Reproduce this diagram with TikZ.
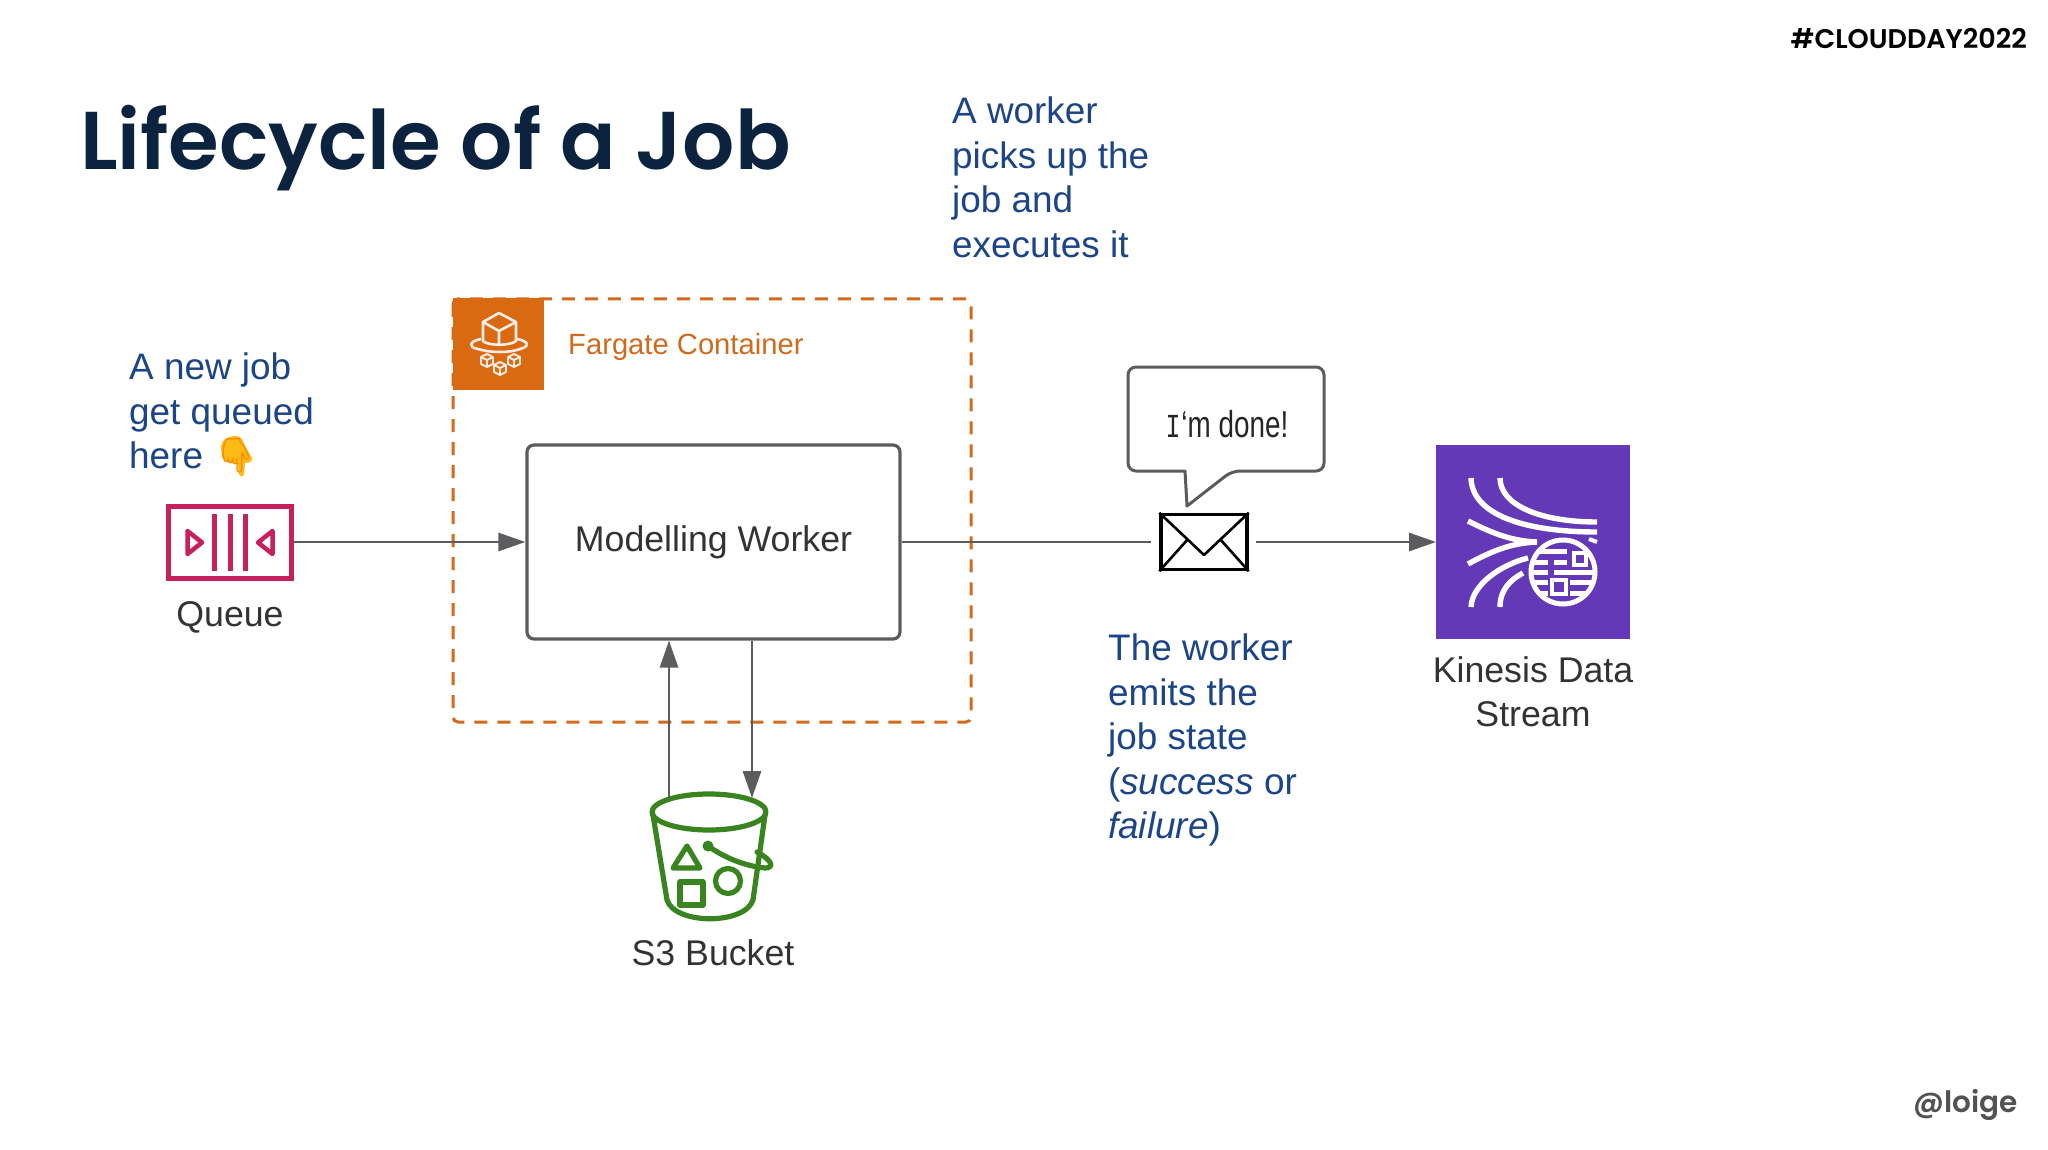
\documentclass[tikz,border=0pt]{standalone}
\usepackage{fontspec}
\setmainfont{Liberation Sans}
\newfontfamily\titlefont{Poppins}[BoldFont={Poppins SemiBold}]
\newfontfamily\tagfont{Poppins}[BoldFont={Poppins SemiBold}]
\newfontfamily\emojifont{Noto Emoji}
\newfontfamily\monofam{Liberation Mono}
\usetikzlibrary{arrows.meta}
\definecolor{navy}{HTML}{0C2340}
\definecolor{noteblue}{HTML}{1C4587}
\definecolor{labelgrey}{HTML}{333333}
\definecolor{linegrey}{HTML}{5C5C5F}
\definecolor{orangeaws}{HTML}{DA6A12}
\definecolor{orangetext}{HTML}{D26A1E}
\definecolor{queuered}{HTML}{C7215D}
\definecolor{bucketgreen}{HTML}{3A8420}
\definecolor{kinesispurple}{HTML}{6339B8}
\definecolor{handyellow}{HTML}{FDBB16}
\tikzset{
  note/.style={anchor=north west,inner sep=0pt,align=left,text=noteblue,font=\fontsize{36.9}{44.4}\selectfont},
  lab/.style={inner sep=0pt,align=center,text=labelgrey,font=\fontsize{35.7}{44.4}\selectfont},
  conn/.style={draw=linegrey,line width=2.8pt},
  arr/.style={conn,-{Triangle[length=27pt,width=18pt]}},
  iconbox/.style={inner sep=0pt,outer sep=0pt,minimum width=#1,minimum height=#1},
  qline/.style={draw=queuered,line width=5pt},
  hatline/.style={draw=white!88!orangeaws,line width=2.6pt,line join=round},
  bline/.style={draw=bucketgreen,line width=5.2pt,line join=round,line cap=round},
  kline/.style={draw=white,line width=5.4pt},
}
\begin{document}
\begin{tikzpicture}[x=1pt,y=-1pt]
\useasboundingbox (0,0) rectangle (2048,1150);
\fill[white] (0,0) rectangle (2048,1150);

% title and tags
\node[anchor=base west,inner sep=0pt,text=navy,font=\titlefont\bfseries\fontsize{82}{90}\selectfont] (title) at (80,170) {Lifecycle of a Job};
\node[anchor=east,inner sep=0pt,text=black,font=\tagfont\bfseries\fontsize{27}{30}\selectfont] (tag) at (2027,39) {\#CLOUDDAY2022};
\node[anchor=east,inner sep=0pt,text=labelgrey!85,font=\tagfont\bfseries\fontsize{29.5}{34}\selectfont] (handle) at (2018,1105) {@loige};

% notes
\node[note] (n1) at (952,97) {A worker\\picks up the\\job and\\executes it};
\node[note] (n2) at (129,353) {A new job\\get queued\\here};
\node[note] (n3) at (1108,634) {The worker\\emits the\\job state\\(\textit{success} or\\\textit{failure})};

% hand emoji
\fill[handyellow] (221,447) .. controls (221,440) and (228,436) .. (236,436)
  .. controls (241,436) and (243,440) .. (245,446) -- (252,458)
  .. controls (253,461) and (250,463) .. (245,463) -- (244,474)
  .. controls (243,477) and (240,477) .. (239,474) -- (237,463)
  .. controls (230,464) and (224,462) .. (222,457) -- cycle;
\node[inner sep=0pt,text=orange!90!handyellow,font=\emojifont\fontsize{34}{36}\selectfont] (hand) at (236,456) {👇};

% container
\draw[draw=orangetext,line width=3pt,dash pattern=on 13pt off 10pt,rounded corners=5pt] (453,299) rectangle (971,722);
\node[iconbox=91pt,fill=orangeaws] (fargate) at (498.5,344) {};
\node[anchor=west,inner sep=0pt,text=orangetext,font=\fontsize{29.2}{32}\selectfont] (fargatelabel) at (568,347) {Fargate Container};
\begin{scope}
  \draw[hatline] (481,339) .. controls (470,341) and (467,347) .. (478,349) .. controls (490,353) and (510,353) .. (520,349) .. controls (531,346) and (528,341) .. (517,339);
  \draw[hatline] (499,313) -- (516,322) -- (516,341) .. controls (510,346) and (488,346) .. (483,341) -- (483,322) -- cycle;
  \draw[hatline] (483,322) -- (499,331) -- (516,322) (499,331) -- (499,345);
  \foreach \cx/\cy in {487/360,500/368,514/360}{
    \draw[draw=white!88!orangeaws,line width=1.8pt,line join=round] (\cx,\cy-6) -- (\cx+6,\cy-3) -- (\cx+6,\cy+4) -- (\cx,\cy+7) -- (\cx-6,\cy+4) -- (\cx-6,\cy-3) -- cycle (\cx-6,\cy-3) -- (\cx,\cy) -- (\cx+6,\cy-3) (\cx,\cy) -- (\cx,\cy+7);
  }
\end{scope}

% worker
\node[draw=linegrey,line width=3.2pt,rounded corners=7pt,minimum width=373pt,minimum height=194pt,inner sep=0pt,text=labelgrey,font=\fontsize{35.7}{38}\selectfont] (worker) at (713.5,542) {Modelling Worker};

% queue
\node[qline,inner sep=0pt,minimum width=123pt,minimum height=72pt,outer sep=2.5pt] (queue) at (230,542) {};
\draw[draw=queuered,line width=5pt] (214,514) -- (214,571) (230,514) -- (230,571) (245,514) -- (245,571);
\draw[draw=queuered,line width=4.5pt,line join=round] (187.5,531) -- (187.5,554) -- (202,542.5) -- cycle;
\draw[draw=queuered,line width=4.5pt,line join=round] (272.5,531) -- (272.5,554) -- (258,542.5) -- cycle;
\node[lab] (queuelabel) at (230,617) {Queue};

% envelope
\node[draw=black,line width=3.5pt,fill=white,inner sep=0pt,minimum width=86pt,minimum height=55pt] (mail) at (1204,542) {};
\draw[black,line width=2.6pt,line join=round] (mail.north west) -- (1204,555) -- (mail.north east);
\draw[black,line width=2.6pt] (mail.south west) -- (1188,539) (mail.south east) -- (1220,539);

% bubble
\node[lab,text=black!85] (donetext) at (1227,424) {\scalebox{.78}[1.05]{{\monofam\fontsize{32}{34}\selectfont I}\kern1pt`m done!}};
\draw[draw=linegrey,line width=3pt,line join=round,rounded corners=8pt] (1185,471) -- (1128,471) -- (1128,367) -- (1324,367) -- (1324,471) -- (1232,471) [sharp corners] -- (1187,506) -- cycle;

% kinesis
\node[iconbox=194pt,fill=kinesispurple] (kinesis) at (1533,542) {};
\draw[kline] (1471,478) .. controls (1472,515) and (1525,532) .. (1597,532);
\draw[kline] (1500,478) .. controls (1500,505) and (1540,522) .. (1597,522);
\draw[kline] (1468,521) .. controls (1490,532) and (1510,541) .. (1537,542);
\draw[kline] (1468,564) .. controls (1490,552) and (1510,543) .. (1537,542);
\draw[kline] (1471,607) .. controls (1472,585) and (1500,565) .. (1528,558);
\draw[kline] (1500,607) .. controls (1500,590) and (1510,580) .. (1523,573);
\draw[kline,line width=4pt] (1589,539) -- (1597,542);
\begin{scope}
  \clip (1563,572) circle (33pt);
  \draw[white,line width=5pt] (1530,551) -- (1567,551) (1530,562) -- (1548,562) (1554,562) -- (1567,562)
    (1530,572) -- (1548,572) (1554,572) -- (1600,572) (1530,582) -- (1548,582) (1570,582) -- (1600,582)
    (1530,593) -- (1548,593) (1570,593) -- (1600,593);
  \draw[white,line width=4pt] (1574,553) rectangle (1586,565) (1552,580) rectangle (1566,594);
\end{scope}
\draw[white,line width=5pt] (1563,572) circle (32pt);
\node[lab] (kinesislabel) at (1533,692) {Kinesis Data\\Stream};

% bucket
\coordinate (bucketin) at (752,798);
\coordinate (bucketout) at (669,800);
\node[inner sep=0pt,minimum width=114pt,minimum height=38pt] (bucket) at (709,812) {};
\draw[bline] (709,812) ellipse (57pt and 18pt);
\draw[bline] (653,815) -- (667,900) .. controls (675,925) and (745,925) .. (753,900) -- (765,815);
\draw[bline] (687,846) -- (700,868) -- (673,868) -- cycle;
\draw[bline] (680,882) rectangle (703,905);
\draw[bline] (728,881) circle (12.5pt);
\fill[bucketgreen] (708,846) circle (5.5pt);
\draw[bline] (708,846) .. controls (725,858) and (745,866) .. (765,868) .. controls (775,868) and (772,860) .. (757,852);
\node[lab] (bucketlabel) at (713,953) {S3 Bucket};

% connectors
\draw[arr] (queue.east) -- (worker.west);
\draw[conn,shorten >=8pt] (worker.east) -- (mail.west);
\draw[arr,shorten <=7pt] (mail.east) -- (kinesis.west);
\draw[arr] (bucketout) -- (bucketout |- worker.south);
\draw[arr] (bucketin |- worker.south) -- (bucketin);
\end{tikzpicture}
\end{document}
